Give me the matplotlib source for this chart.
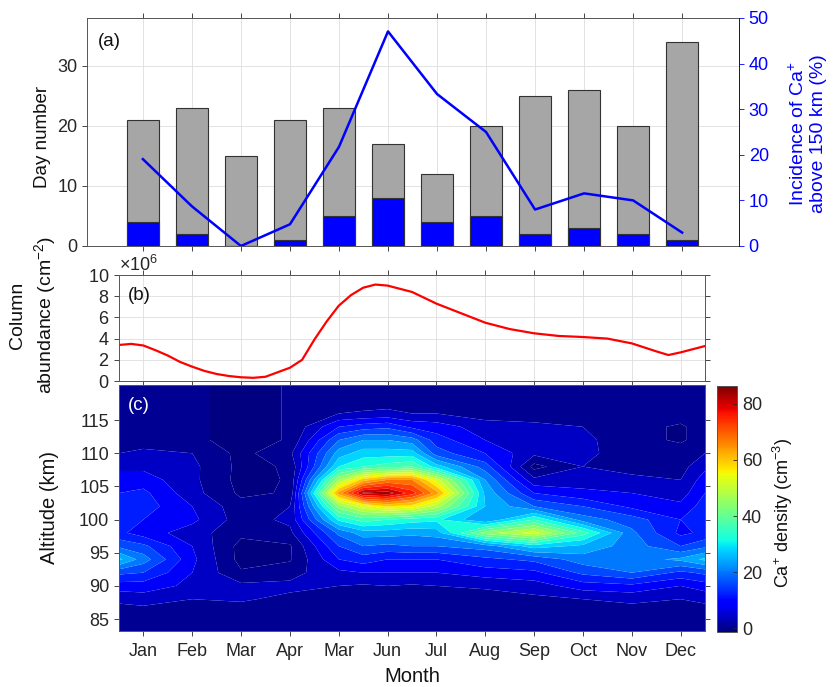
import numpy as np
import matplotlib
matplotlib.use('Agg')
import matplotlib.pyplot as plt
from matplotlib.colors import Normalize
from matplotlib.cm import ScalarMappable
from matplotlib.ticker import ScalarFormatter

plt.rcParams['font.family'] = ['Liberation Sans', 'DejaVu Sans']
plt.rcParams['mathtext.fontset'] = 'custom'
plt.rcParams['mathtext.rm'] = 'Liberation Sans'
plt.rcParams['mathtext.it'] = 'Liberation Sans:italic'
plt.rcParams['mathtext.bf'] = 'Liberation Sans:bold'

# ---------------- data ----------------
months = [1, 2, 3, 4, 5, 6, 7, 8, 9, 10, 11, 12]
month_labels = ['Jan', 'Feb', 'Mar', 'Apr', 'Mar', 'Jun', 'Jul', 'Aug', 'Sep', 'Oct', 'Nov', 'Dec']
total_days = [21, 23, 15, 21, 23, 17, 12, 20, 25, 26, 20, 34]
ca_days = [4, 2, 0, 1, 5, 8, 4, 5, 2, 3, 2, 1]
incidence = [19.05, 8.70, 0.0, 4.76, 21.74, 47.06, 33.33, 25.0, 8.0, 11.54, 10.0, 2.94]

# column abundance (x 1e6 cm^-2)
abund_x = [0.5, 0.75, 1.0, 1.25, 1.5, 1.75, 2.0, 2.25, 2.5, 2.75, 3.0, 3.25, 3.5,
           4.0, 4.25, 4.5, 4.75, 5.0, 5.25, 5.5, 5.75, 6.0, 6.5, 7.0, 7.5, 8.0,
           8.5, 9.0, 9.5, 10.0, 10.5, 11.0, 11.5, 11.75, 12.0, 12.5]
abund = [3.4, 3.5, 3.35, 2.9, 2.4, 1.8, 1.35, 0.95, 0.66, 0.47, 0.35, 0.3, 0.4,
         1.25, 2.0, 3.9, 5.6, 7.1, 8.1, 8.8, 9.1, 9.0, 8.4, 7.3, 6.4, 5.5,
         4.9, 4.5, 4.25, 4.15, 4.0, 3.55, 2.8, 2.45, 2.7, 3.3]

# Ca+ density (cm^-3) profiles
alt = [83, 86, 88, 90, 92, 94, 96, 98, 100, 102, 104, 106, 108, 110, 112, 114, 116, 118, 121]
grid_x = [0.5, 1, 2, 3, 4, 5, 5.5, 6, 6.5, 7, 8, 9, 10, 11, 12, 12.5]
dens_edge = [2, 2, 5, 10, 17, 29, 19, 13, 14, 14, 12, 10, 7, 4, 2, 2, 2, 2, 2]
dens_jan = [2, 2, 6, 10, 16, 22, 17, 10, 12, 14, 13, 10, 7, 5, 2, 2, 2, 2, 2]
dens_feb = [2, 2, 4, 7, 8, 9, 8, 6, 9, 8, 5.5, 5, 5, 4, 0.8, 0.8, 0.8, 0.8, 0.8]
dens_mar = [2, 2, 4.5, 5, 0.5, -1.4, -1.4, 1, 2, 1.5, -0.8, -1.4, -1.2, -1.2, -1.4, -1.4, -1.4, -1.4, -1.4]
dens_apr = [2, 2, 3, 5, 2.5, -0.5, -0.5, 3, 5, 4, 0.4, 0.35, 0.5, 3, 0.3, 0.3, 0.3, 0.3, 0.3]
dens_may = [2, 2, 2.5, 4, 7, 12, 16, 21, 33, 46, 66, 48, 32, 26, 20, 12, 4, 2, 2]
dens_may_jun = [2, 2, 2.5, 3.5, 8, 14, 20, 26, 38, 55, 85, 62, 36, 30, 24, 14, 4.5, 2, 2]
dens_jun = [2, 2, 2.5, 4, 8, 12, 19, 26, 36, 60, 86.2, 68, 38, 30, 24, 15, 5, 2, 2]
dens_jun_jul = [2, 2, 2.5, 3.5, 8, 12, 20, 25, 34, 58, 78, 68, 40, 30, 22, 11, 4, 2, 2]
dens_jul = [2, 2, 2.5, 4, 8, 12, 20, 26, 33, 50, 66, 54, 30, 18, 14, 10, 4, 2, 2]
dens_aug = [2, 2, 2.5, 4.5, 10, 15, 22, 46, 24, 28, 27, 24, 18, 12, 8, 6, 2, 2, 2]
dens_sep = [2, 2, 3, 6, 11, 17, 30, 54, 36, 20, 12, 5, -1.4, 5, 6, 5, 2, 2, 2]
dens_oct = [2, 2, 4, 10, 17, 22, 27, 38, 22, 16, 9, 6, 4, 5, 5, 4, 2, 2, 2]
dens_nov = [2, 2, 5, 11, 20, 22, 22, 21, 18, 11, 8, 5, 2.5, 2, 1.5, 1.5, 2, 2, 2]
dens_dec = [2, 2, 4, 8, 15, 25, 16, 11, 12, 9, 6, 4, 2.5, 2, -0.6, -0.6, 2, 2, 2]

# ---------------- figure ----------------
fig = plt.figure(figsize=(8.33, 6.87), dpi=100)
W, H = 833, 687


def rect(x0, y0, x1, y1):
    return [x0 / W, 1 - y1 / H, (x1 - x0) / W, (y1 - y0) / H]


def px(x, y):
    return x / W, 1 - y / H


axc_col = '#262626'
grid_col = '#DEDEDE'
fs_tick = 13

# ----- panel (a) -----
ax_a = fig.add_axes(rect(87, 18, 739, 246))
ax_a.set_axisbelow(True)
ax_a.bar(months, total_days, width=0.65, color='#A6A6A6', edgecolor='#333333', linewidth=0.8)
ax_a.bar(months, ca_days, width=0.65, color='#0000FF', edgecolor='#333333', linewidth=0.8)
ax_a.set_xlim(-0.14, 13.16)
ax_a.set_ylim(0, 38)
ax_a.set_xticks(months)
ax_a.set_xticklabels([])
ax_a.set_yticks([0, 10, 20, 30])
ax_a.grid(True, color=grid_col, linewidth=0.6)
ax_a.tick_params(direction='out', length=3.5, width=0.6, colors=axc_col,
                 labelsize=fs_tick, top=True)
for s in ['left', 'top', 'bottom']:
    ax_a.spines[s].set_color('#555555')
    ax_a.spines[s].set_linewidth(0.7)
ax_a.spines['right'].set_visible(False)
ax_a.set_ylabel('Day number', fontsize=13.5, color='#111111')
ax_a.yaxis.set_label_coords(-0.055, 0.48)
fig.text(*px(98, 42), '(a)', ha='left', va='center', fontsize=13.5, color='#111111')

ax2 = ax_a.twinx()
ax2.plot(months, incidence, color='#0000FF', linewidth=1.8)
ax2.set_ylim(0, 50)
ax2.set_yticks([0, 10, 20, 30, 40, 50])
ax2.tick_params(axis='y', direction='out', length=3.5, width=0.6, colors='#0000FF',
                labelsize=fs_tick)
ax2.spines['right'].set_color('#0000FF')
ax2.spines['right'].set_linewidth(0.7)
for s in ['left', 'top', 'bottom']:
    ax2.spines[s].set_visible(False)
fig.text(*px(808, 134), 'Incidence of Ca$^{+}$\nabove 150 km (%)', rotation=90,
         ha='center', va='center', fontsize=14, color='#0000FF', multialignment='center',
         linespacing=1.15)

# ----- panel (b) -----
ax_b = fig.add_axes(rect(119, 275, 705, 381))
ax_b.plot(abund_x, np.array(abund) * 1e6, color='#FF0000', linewidth=1.6)
ax_b.set_xlim(0.5, 12.5)
ax_b.set_ylim(0, 10e6)
ax_b.set_xticks(months)
ax_b.set_xticklabels([])
ax_b.set_yticks(np.arange(0, 10.1e6, 2e6))
fmt = ScalarFormatter(useMathText=True)
fmt.set_powerlimits((6, 6))
ax_b.yaxis.set_major_formatter(fmt)
ax_b.yaxis.get_offset_text().set_fontsize(fs_tick)
ax_b.yaxis.get_offset_text().set_color(axc_col)
ax_b.grid(True, color=grid_col, linewidth=0.6)
ax_b.tick_params(direction='out', length=3.5, width=0.6, colors=axc_col,
                 labelsize=fs_tick, top=True, right=True)
for s in ax_b.spines.values():
    s.set_color('#555555')
    s.set_linewidth(0.7)
ax_b.set_ylabel('Column\nabundance (cm$^{-2}$)', fontsize=14, color='#111111',
                linespacing=1.3)
ax_b.yaxis.set_label_coords(-0.104, 0.62)
fig.text(*px(128, 296), '(b)', ha='left', va='center', fontsize=13.5, color='#111111')

# ----- panel (c) -----
ax_c = fig.add_axes(rect(119, 385, 705, 631))
Z = np.column_stack([dens_edge, dens_jan, dens_feb, dens_mar, dens_apr, dens_may,
                     dens_may_jun, dens_jun, dens_jun_jul, dens_jul, dens_aug,
                     dens_sep, dens_oct, dens_nov, dens_dec, dens_edge])
vmin, vmax = -1.4, 86.4
norm = Normalize(vmin, vmax)
cmap = plt.get_cmap('jet')
levels = np.concatenate([[vmin], np.arange(0, 85, 4), [vmax]])
band_colors = [cmap(norm(v)) for v in levels[:-1]]
ax_c.contourf(grid_x, alt, Z, levels=levels, colors=band_colors, antialiased=True)
ax_c.set_xlim(0.5, 12.5)
ax_c.set_ylim(83.2, 120.3)
ax_c.set_xticks(months)
ax_c.set_xticklabels(month_labels)
ax_c.set_yticks([85, 90, 95, 100, 105, 110, 115])
ax_c.tick_params(direction='out', length=3.5, width=0.6, colors=axc_col,
                 labelsize=fs_tick, right=True)
ax_c.tick_params(axis='x', pad=5)
for s in ax_c.spines.values():
    s.set_color('#555555')
    s.set_linewidth(0.7)
ax_c.set_ylabel('Altitude (km)', fontsize=14.5, color='#111111')
ax_c.yaxis.set_label_coords(-0.102, 0.5)
ax_c.set_xlabel('Month', fontsize=14.5, color='#111111', labelpad=5)
fig.text(*px(128, 406), '(c)', ha='left', va='center', fontsize=13.5, color='white')

# colorbar
cax = fig.add_axes(rect(717, 386, 737, 632))
cb = fig.colorbar(ScalarMappable(norm=norm, cmap=cmap), cax=cax)
cb.set_ticks([0, 20, 40, 60, 80])
cb.ax.tick_params(direction='in', length=3, width=0.6, colors=axc_col, labelsize=fs_tick)
cb.outline.set_edgecolor('#555555')
cb.outline.set_linewidth(0.7)
fig.text(*px(783, 513), 'Ca$^{+}$ density (cm$^{-3}$)', rotation=90,
         ha='center', va='center', fontsize=13, color='#111111')

fig.savefig('out.png', dpi=100)
